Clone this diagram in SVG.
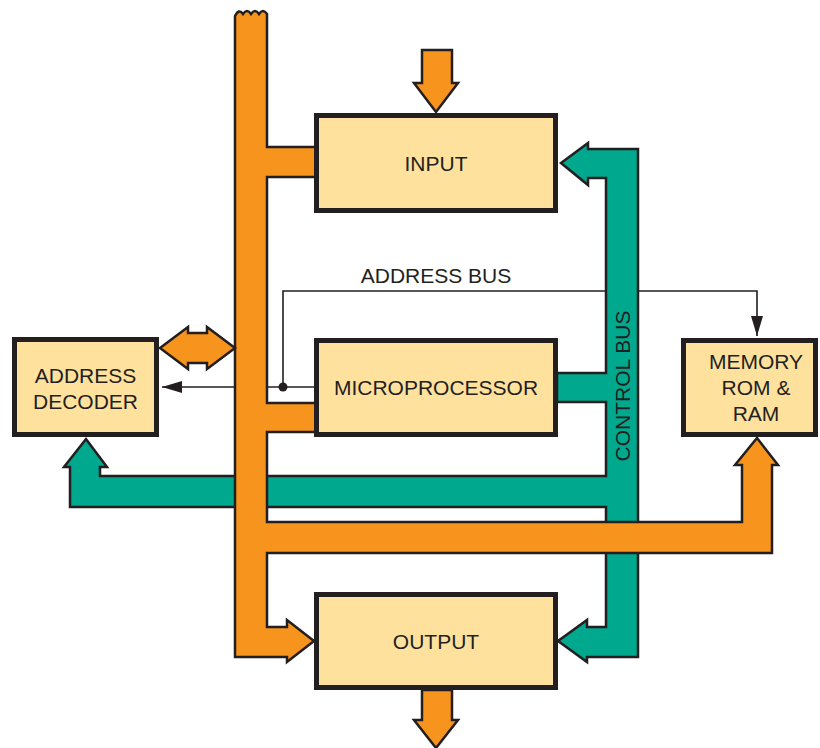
<svg xmlns="http://www.w3.org/2000/svg" width="820" height="748" viewBox="0 0 820 748">
<style>
.bus{stroke:#231F20;stroke-width:2.5;stroke-linejoin:miter}
.org{fill:#F7941D}
.grn{fill:#00A88E}
.box{fill:#FFE19E;stroke:#231F20;stroke-width:5}
.lbl{font-family:"Liberation Sans",Arial,sans-serif;font-size:21px;fill:#231F20;text-anchor:middle}
.wire{fill:none;stroke:#231F20;stroke-width:1.6}
</style>
<defs>
<marker id="ah" viewBox="0 0 20 12" refX="20" refY="6" markerWidth="20" markerHeight="12" markerUnits="userSpaceOnUse" orient="auto">
<path d="M0,0 L20,6 L0,12 Z" fill="#231F20"/>
</marker>
</defs>
<rect width="820" height="748" fill="#FFFFFF"/>
<g id="connectors">
<path class="wire" d="M316,387 L162,387" marker-end="url(#ah)"/>
<path class="wire" d="M283,387 L283,291 L757,291 L757,336" marker-end="url(#ah)"/>
<circle cx="283" cy="387" r="4.5" fill="#231F20"/>
<path id="control-bus" class="bus grn" d="M638,149 L638,657 L587,657 L587,662 L558,641 L587,620 L587,627 L606,627 L606,507 L70,507 L70,467 L64,467 L86,439 L107,467 L100,467 L100,476 L606,476 L606,402 L557,402 L557,373 L606,373 L606,178 L588,178 L588,185 L561,163 L588,143 L588,149 Z"/>
<path id="data-bus" class="bus org" d="M235,16 Q239,8 243,14 Q247,8 251,14 Q255,8 259,14 Q263,8 267,14 L267,147 L316,147 L316,177 L267,177 L267,403 L316,403 L316,432 L267,432 L267,522 L742,522 L742,465 L735,465 L757,438 L778,465 L772,465 L772,553 L267,553 L267,627 L287,627 L287,620 L314,641 L287,662 L287,657 L235,657 Z"/>
<path class="bus org" d="M160,348 L188,327 L188,333 L207,333 L207,327 L235,348 L207,369 L207,363 L188,363 L188,369 Z"/>
<path class="bus org" d="M422,50 L452,50 L452,83 L458,83 L436,112 L414,83 L422,83 Z"/>
<path class="bus org" d="M422,690 L452,690 L452,720 L458,720 L436,748 L414,720 L422,720 Z"/>
<text class="lbl" x="436" y="283">ADDRESS BUS</text>
<text class="lbl" transform="translate(630,386) rotate(-90)">CONTROL BUS</text>
</g>
<g id="input">
<rect class="box" x="316.5" y="115.5" width="239" height="95"/>
<text class="lbl" x="436" y="171">INPUT</text>
</g>
<g id="microprocessor">
<rect class="box" x="316.5" y="340.5" width="239" height="94"/>
<text class="lbl" x="436" y="395">MICROPROCESSOR</text>
</g>
<g id="output">
<rect class="box" x="316.5" y="594.5" width="239" height="93"/>
<text class="lbl" x="436" y="649">OUTPUT</text>
</g>
<g id="address-decoder">
<rect class="box" x="14.5" y="339.5" width="142" height="95"/>
<text class="lbl" x="85.5" y="383">ADDRESS</text>
<text class="lbl" x="85.5" y="409">DECODER</text>
</g>
<g id="memory">
<rect class="box" x="683.5" y="340.5" width="132" height="94"/>
<text class="lbl" x="756" y="369">MEMORY</text>
<text class="lbl" x="756" y="395">ROM &amp;</text>
<text class="lbl" x="756" y="421">RAM</text>
</g>
</svg>
